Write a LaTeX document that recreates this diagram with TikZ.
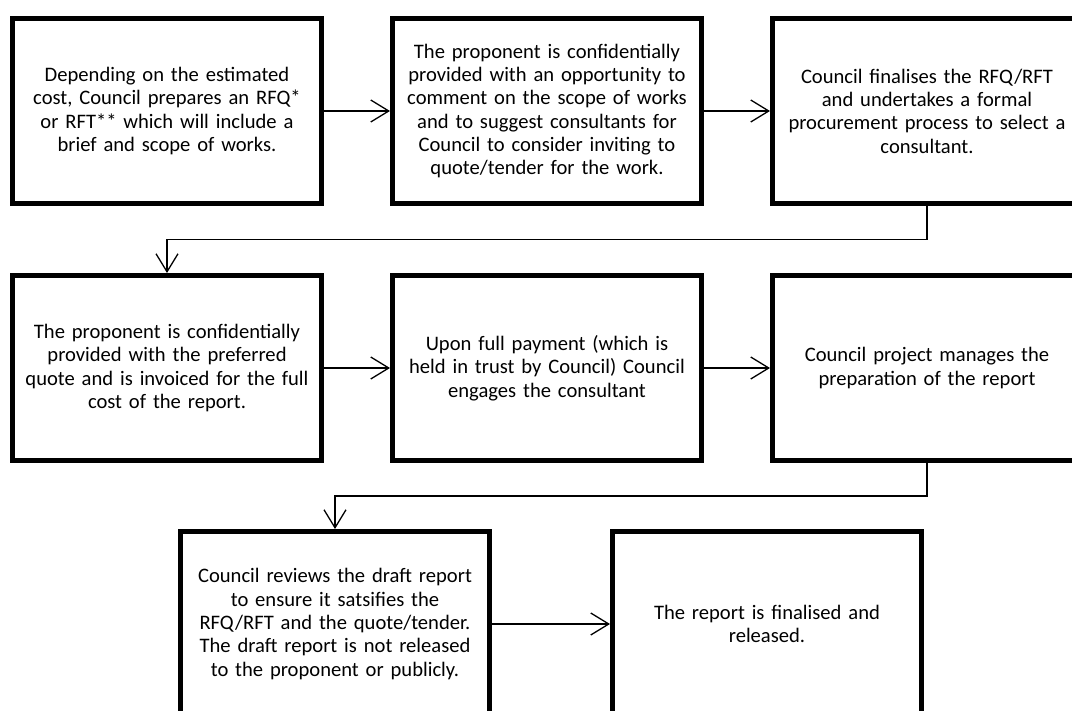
\documentclass[tikz,border=0pt]{standalone}
\usepackage{fontspec}
\setmainfont{Carlito}
\usetikzlibrary{positioning,arrows.meta,calc}

\begin{document}
\begin{tikzpicture}[x=1pt, y=1pt,
    box/.style={rectangle, draw, line width=5pt, minimum width=309pt, minimum height=185pt,
        text width=300pt, inner sep=0pt, align=center, font=\fontsize{20.6}{23.3}\selectfont},
    arr/.style={line width=1.3pt, -{Straight Barb[length=18pt, width=22pt, line width=1.3pt]}}]
        \useasboundingbox (0,0) rectangle (1072,-711);

        % Draw nodes
        \node[box] (1) at (167,-111) {Depending on the estimated\\ cost, Council prepares an RFQ*\\ or RFT** which will include a\\ brief and scope of works.};
        \node[box, right=66pt of 1] (2) {The proponent is confidentially\\ provided with an opportunity to\\ comment on the scope of works\\ and to suggest consultants for\\ Council to consider inviting to\\ quote/tender for the work.};
        \node[box, right=66pt of 2] (3) {Council finalises the RFQ/RFT\\ and undertakes a formal\\ procurement process to select a\\ consultant.};
        \node[box, below=67pt of 1] (4) {The proponent is confidentially\\ provided with the preferred\\ quote and is invoiced for the full\\ cost of the report.};
        \node[box, right=66pt of 4] (5) {Upon full payment (which is\\ held in trust by Council) Council\\ engages the consultant};
        \node[box, right=66pt of 5] (6) {Council project manages the\\ preparation of the report};
        \node[box, below=66pt of 4, xshift=168pt] (7) {Council reviews the draft report\\ to ensure it satsifies the\\ RFQ/RFT and the quote/tender.\\ The draft report is not released\\ to the proponent or publicly.};
        \node[box, right=118pt of 7] (8) {The report is finalised and\\ released.};

        % Bends between rows
        \coordinate (b1) at ($(3.south)!0.5!(3.south |- 4.north)$);
        \coordinate (b2) at ($(6.south)!0.5!(6.south |- 7.north)$);

        % Draw connections
        \draw[arr] (1) -- (2);
        \draw[arr] (2) -- (3);
        \draw[arr] (3.south) -- (b1) -| (4.north);
        \draw[arr] (4) -- (5);
        \draw[arr] (5) -- (6);
        \draw[arr] (6.south) -- (b2) -| (7.north);
        \draw[arr] (7) -- (8);
    \end{tikzpicture}
\end{document}
